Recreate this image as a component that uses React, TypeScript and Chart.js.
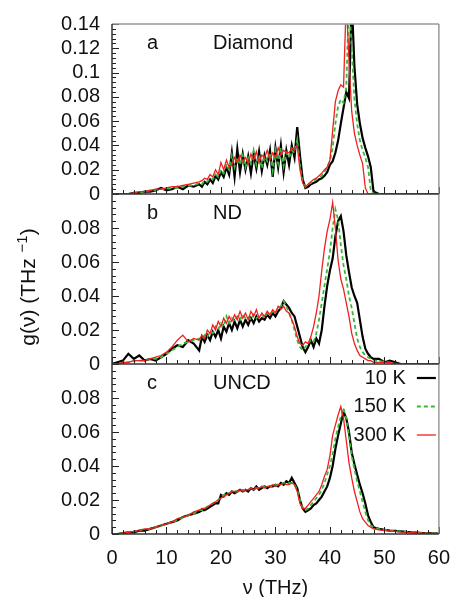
import React, { useEffect, useRef } from 'react';
import { Chart, registerables } from 'chart.js';

Chart.register(...registerables);

// Frequency grid (THz)
const FREQ = [
  0, 1, 2, 3, 4, 5, 6, 7, 8, 9, 10, 11, 12, 13, 14, 15, 16,
  16.5, 17, 17.5, 18, 18.5, 19, 19.5, 20, 20.5, 21, 21.5, 22, 22.5, 23, 23.5, 24,
  24.5, 25, 25.5, 26, 26.5, 27, 27.5, 28, 28.5, 29, 29.5, 30, 30.5, 31, 31.5, 32,
  32.5, 33, 33.5, 34, 34.5, 35, 35.5, 36, 36.5, 37, 37.5, 38, 38.5, 39, 39.5, 40,
  40.5, 41, 41.5, 42, 42.5, 43, 43.5, 44, 44.5, 45, 45.5, 46, 46.5, 47, 47.5, 48,
  49, 50, 51, 52, 53, 54, 55, 56, 57, 58, 59, 60,
];

// Panel a: Diamond
const DIAMOND_10K = [
  0, 0, 0, 0, 0.001, 0.001, 0.002, 0.002, 0.003, 0.005, 0.003, 0.004, 0.006, 0.004, 0.007, 0.006, 0.008,
  0.006, 0.010, 0.008, 0.012, 0.009, 0.015, 0.012, 0.018, 0.014, 0.022, 0.016, 0.034, 0.014, 0.037, 0.018, 0.033,
  0.020, 0.031, 0.017, 0.033, 0.021, 0.035, 0.019, 0.032, 0.024, 0.036, 0.014, 0.038, 0.022, 0.040, 0.018, 0.036,
  0.024, 0.040, 0.030, 0.055, 0.032, 0.012, 0.005, 0.006, 0.008, 0.009, 0.010, 0.012, 0.013, 0.015, 0.018, 0.024,
  0.027, 0.034, 0.044, 0.058, 0.071, 0.084, 0.079, 0.16, 0.105, 0.074, 0.058, 0.046, 0.038, 0.031, 0.022, 0.002,
  0, 0, 0, 0, 0, 0, 0, 0, 0, 0, 0, 0,
];
const DIAMOND_150K = [
  0, 0, 0, 0, 0.001, 0.001, 0.002, 0.003, 0.003, 0.004, 0.004, 0.005, 0.005, 0.006, 0.007, 0.007, 0.009,
  0.008, 0.011, 0.010, 0.013, 0.012, 0.016, 0.014, 0.020, 0.017, 0.024, 0.020, 0.032, 0.022, 0.030, 0.024, 0.032,
  0.022, 0.030, 0.025, 0.036, 0.024, 0.032, 0.021, 0.031, 0.027, 0.034, 0.019, 0.036, 0.025, 0.038, 0.023, 0.034,
  0.030, 0.036, 0.034, 0.045, 0.024, 0.010, 0.006, 0.008, 0.009, 0.011, 0.012, 0.013, 0.015, 0.018, 0.022, 0.027,
  0.038, 0.058, 0.072, 0.078, 0.075, 0.088, 0.16, 0.12, 0.078, 0.058, 0.044, 0.036, 0.030, 0.022, 0.003, 0,
  0, 0, 0, 0, 0, 0, 0, 0, 0, 0, 0, 0,
];
const DIAMOND_300K = [
  0, 0, 0, 0, 0.001, 0.002, 0.002, 0.003, 0.004, 0.004, 0.005, 0.006, 0.006, 0.007, 0.008, 0.009, 0.010,
  0.011, 0.013, 0.012, 0.016, 0.014, 0.020, 0.016, 0.026, 0.020, 0.028, 0.022, 0.024, 0.030, 0.026, 0.032, 0.027,
  0.030, 0.025, 0.033, 0.028, 0.035, 0.026, 0.032, 0.030, 0.036, 0.028, 0.034, 0.030, 0.038, 0.032, 0.036, 0.034,
  0.034, 0.038, 0.036, 0.040, 0.020, 0.009, 0.006, 0.008, 0.010, 0.012, 0.013, 0.015, 0.017, 0.020, 0.022, 0.028,
  0.052, 0.076, 0.085, 0.090, 0.088, 0.16, 0.11, 0.068, 0.050, 0.040, 0.032, 0.025, 0.005, 0, 0, 0,
  0, 0, 0, 0, 0, 0, 0, 0, 0, 0, 0, 0,
];

// Panel b: ND
const ND_10K = [
  0, 0.001, 0.002, 0.006, 0.003, 0.005, 0.002, 0.003, 0.002, 0.004, 0.006, 0.009, 0.011, 0.010, 0.014, 0.012, 0.008,
  0.016, 0.013, 0.017, 0.014, 0.019, 0.016, 0.020, 0.015, 0.022, 0.019, 0.024, 0.020, 0.025, 0.021, 0.026, 0.022,
  0.026, 0.023, 0.027, 0.024, 0.028, 0.025, 0.027, 0.026, 0.029, 0.027, 0.030, 0.028, 0.031, 0.033, 0.037, 0.035,
  0.033, 0.030, 0.028, 0.022, 0.016, 0.010, 0.007, 0.010, 0.014, 0.010, 0.015, 0.012, 0.020, 0.034, 0.046, 0.055,
  0.062, 0.075, 0.084, 0.087, 0.078, 0.064, 0.054, 0.045, 0.040, 0.036, 0.026, 0.016, 0.009, 0.006, 0.004, 0.003,
  0.003, 0.001, 0.002, 0.001, 0, 0, 0, 0, 0, 0, 0, 0,
];
const ND_150K = [
  0, 0, 0.001, 0.001, 0.002, 0.002, 0.002, 0.003, 0.003, 0.004, 0.006, 0.008, 0.010, 0.012, 0.013, 0.014, 0.015,
  0.014, 0.017, 0.016, 0.019, 0.018, 0.022, 0.020, 0.024, 0.022, 0.028, 0.024, 0.027, 0.025, 0.028, 0.026, 0.029,
  0.027, 0.028, 0.026, 0.029, 0.027, 0.028, 0.029, 0.027, 0.030, 0.029, 0.031, 0.030, 0.033, 0.034, 0.037, 0.034,
  0.030, 0.026, 0.020, 0.014, 0.010, 0.008, 0.010, 0.012, 0.014, 0.013, 0.018, 0.026, 0.036, 0.046, 0.056, 0.066,
  0.080, 0.091, 0.085, 0.070, 0.058, 0.050, 0.040, 0.033, 0.024, 0.015, 0.010, 0.007, 0.005, 0.004, 0.003, 0.002,
  0.002, 0.001, 0.001, 0, 0, 0, 0, 0, 0, 0, 0, 0,
];
const ND_300K = [
  0, 0, 0.001, 0.001, 0.002, 0.002, 0.002, 0.003, 0.004, 0.005, 0.007, 0.010, 0.014, 0.017, 0.013, 0.015, 0.014,
  0.017, 0.015, 0.020, 0.018, 0.023, 0.020, 0.025, 0.022, 0.027, 0.024, 0.028, 0.025, 0.029, 0.026, 0.031, 0.027,
  0.030, 0.026, 0.031, 0.028, 0.032, 0.027, 0.030, 0.028, 0.031, 0.029, 0.032, 0.030, 0.034, 0.032, 0.034, 0.031,
  0.030, 0.026, 0.022, 0.016, 0.012, 0.011, 0.013, 0.012, 0.016, 0.022, 0.030, 0.040, 0.055, 0.068, 0.078, 0.085,
  0.095, 0.080, 0.061, 0.050, 0.044, 0.036, 0.028, 0.018, 0.012, 0.008, 0.005, 0.004, 0.003, 0.002, 0.002, 0.001,
  0.001, 0.001, 0.001, 0, 0, 0, 0, 0, 0, 0, 0, 0,
];

// Panel c: UNCD
const UNCD_10K = [
  0, 0, 0.0005, 0.001, 0.001, 0.002, 0.002, 0.003, 0.004, 0.005, 0.006, 0.007, 0.008, 0.010, 0.011, 0.012, 0.013,
  0.014, 0.014, 0.015, 0.016, 0.017, 0.018, 0.018, 0.023, 0.022, 0.024, 0.023, 0.025, 0.024, 0.025, 0.026, 0.025,
  0.026, 0.025, 0.027, 0.026, 0.028, 0.026, 0.027, 0.028, 0.027, 0.028, 0.028, 0.029, 0.028, 0.030, 0.029, 0.031,
  0.030, 0.033, 0.030, 0.027, 0.020, 0.015, 0.013, 0.014, 0.015, 0.017, 0.018, 0.020, 0.022, 0.025, 0.028, 0.033,
  0.040, 0.050, 0.058, 0.065, 0.072, 0.068, 0.060, 0.048, 0.041, 0.035, 0.029, 0.024, 0.018, 0.011, 0.007, 0.004,
  0.003, 0.0025, 0.002, 0.0018, 0.0015, 0.0012, 0.001, 0.0008, 0.0006, 0.0005, 0.0004, 0.0003,
];
const UNCD_150K = [
  0, 0, 0.0005, 0.001, 0.0015, 0.002, 0.003, 0.003, 0.004, 0.005, 0.006, 0.007, 0.008, 0.010, 0.011, 0.012, 0.014,
  0.014, 0.015, 0.016, 0.017, 0.018, 0.019, 0.020, 0.022, 0.023, 0.024, 0.024, 0.025, 0.025, 0.025, 0.026, 0.026,
  0.026, 0.026, 0.027, 0.027, 0.027, 0.027, 0.028, 0.028, 0.028, 0.028, 0.028, 0.029, 0.029, 0.029, 0.030, 0.030,
  0.030, 0.030, 0.029, 0.026, 0.020, 0.015, 0.014, 0.015, 0.017, 0.019, 0.021, 0.023, 0.026, 0.030, 0.035, 0.040,
  0.047, 0.056, 0.063, 0.069, 0.074, 0.068, 0.058, 0.046, 0.038, 0.031, 0.025, 0.019, 0.013, 0.008, 0.005, 0.004,
  0.003, 0.0025, 0.002, 0.0018, 0.0015, 0.0012, 0.001, 0.0008, 0.0006, 0.0005, 0.0004, 0.0003,
];
const UNCD_300K = [
  0, 0, 0.0005, 0.001, 0.0015, 0.002, 0.003, 0.003, 0.004, 0.005, 0.006, 0.007, 0.009, 0.010, 0.011, 0.013, 0.014,
  0.015, 0.015, 0.016, 0.017, 0.018, 0.019, 0.020, 0.021, 0.022, 0.023, 0.024, 0.025, 0.025, 0.025, 0.026, 0.025,
  0.026, 0.026, 0.027, 0.026, 0.027, 0.027, 0.028, 0.027, 0.028, 0.028, 0.029, 0.028, 0.029, 0.029, 0.030, 0.029,
  0.029, 0.030, 0.029, 0.025, 0.018, 0.015, 0.015, 0.017, 0.019, 0.021, 0.023, 0.025, 0.029, 0.034, 0.038, 0.046,
  0.058, 0.064, 0.070, 0.075, 0.068, 0.055, 0.042, 0.033, 0.025, 0.019, 0.013, 0.009, 0.007, 0.005, 0.004, 0.003,
  0.0025, 0.002, 0.0018, 0.0015, 0.0012, 0.001, 0.0008, 0.0006, 0.0005, 0.0004, 0.0003, 0.0003,
];

const PANEL_LETTERS = ['a', 'b', 'c'];
const PANEL_NAMES = ['Diamond', 'ND', 'UNCD'];
const PANEL_MAX = [0.14, 0.1, 0.1];
const PANEL_LABEL_MAX = [0.14, 0.08, 0.08];
const SERIES_LABELS = ['10 K', '150 K', '300 K'];
const SERIES_COLORS = ['#000000', '#33bb33', '#f02020'];
const SERIES_WIDTHS = [2.2, 1.8, 1.3];
const SERIES_DASH: number[][] = [[], [4, 3], []];
const X_MIN = 0;
const X_MAX = 60;
const X_STEP = 10;
const Y_STEP = 0.02;

const PANEL_DATA = [
  [DIAMOND_10K, DIAMOND_150K, DIAMOND_300K],
  [ND_10K, ND_150K, ND_300K],
  [UNCD_10K, UNCD_150K, UNCD_300K],
];
const PANEL_AXES = ['ya', 'yb', 'yc'];

const FONT = '"Liberation Sans", Arial, Helvetica, sans-serif';

const decorPlugin = {
  id: 'decor',
  afterDatasetsDraw(chart: any) {
    const { ctx, chartArea: ca, scales } = chart;
    const xs = scales.x;
    ctx.save();
    const line = (x1: number, y1: number, x2: number, y2: number) => {
      ctx.beginPath();
      ctx.moveTo(x1, y1);
      ctx.lineTo(x2, y2);
      ctx.stroke();
    };
    // ticks
    ctx.strokeStyle = '#222';
    ctx.lineWidth = 1;
    PANEL_AXES.forEach((id, pi) => {
      const ys = scales[id];
      for (let v = X_MIN; v <= X_MAX; v += 2) {
        const px = Math.round(xs.getPixelForValue(v)) + 0.5;
        const len = v % 10 === 0 ? 7 : 4;
        line(px, ys.bottom, px, ys.bottom - len);
      }
      const nMinor = Math.round(PANEL_MAX[pi] / 0.004);
      for (let k = 0; k <= nMinor; k++) {
        const py = Math.round(ys.getPixelForValue(k * 0.004)) + 0.5;
        const len = k % 5 === 0 ? 7 : 4;
        line(ca.left, py, ca.left + len, py);
      }
    });
    // borders
    ctx.lineWidth = 1.5;
    ctx.strokeStyle = '#999';
    line(ca.left, ca.top, ca.right, ca.top);
    line(ca.right, ca.top, ca.right, ca.bottom);
    ctx.strokeStyle = '#333';
    line(ca.left, ca.top, ca.left, ca.bottom);
    PANEL_AXES.forEach((id) => {
      const ys = scales[id];
      line(ca.left, ys.bottom, ca.right, ys.bottom);
    });

    // panel labels
    ctx.fillStyle = '#111';
    ctx.font = `20px ${FONT}`;
    ctx.textBaseline = 'middle';
    ctx.textAlign = 'left';
    PANEL_AXES.forEach((id, pi) => {
      const ys = scales[id];
      const y = ys.top + 19;
      ctx.fillText(PANEL_LETTERS[pi], ca.left + 35, y);
      ctx.fillText(PANEL_NAMES[pi], ca.left + 101, y);
    });

    // legend in panel c
    const yc = scales.yc;
    SERIES_LABELS.forEach((lab, i) => {
      const y = yc.top + 14 + i * 28.5;
      ctx.textAlign = 'right';
      ctx.fillStyle = '#111';
      ctx.fillText(lab, ca.right - 33, y);
      ctx.strokeStyle = SERIES_COLORS[i];
      ctx.lineWidth = SERIES_WIDTHS[i];
      ctx.setLineDash(SERIES_DASH[i]);
      line(ca.right - 22, y, ca.right - 3, y);
      ctx.setLineDash([]);
    });

    // x title
    ctx.fillStyle = '#111';
    ctx.textAlign = 'center';
    ctx.font = `20px ${FONT}`;
    ctx.fillText('\u03bd (THz)', (ca.left + ca.right) / 2, 588);

    // y title (rotated) with superscript
    ctx.save();
    ctx.translate(28, 287);
    ctx.rotate(-Math.PI / 2);
    const main = 'g(\u03bd) (THz ';
    const sup = '\u22121';
    const close = ')';
    ctx.font = `21px ${FONT}`;
    const wMain = ctx.measureText(main).width;
    const wClose = ctx.measureText(close).width;
    ctx.font = `15px ${FONT}`;
    const wSup = ctx.measureText(sup).width;
    const total = wMain + wSup + wClose;
    let x0 = -total / 2;
    ctx.textAlign = 'left';
    ctx.textBaseline = 'alphabetic';
    ctx.font = `21px ${FONT}`;
    ctx.fillText(main, x0, 7);
    x0 += wMain;
    ctx.font = `15px ${FONT}`;
    ctx.fillText(sup, x0, -1);
    x0 += wSup;
    ctx.font = `21px ${FONT}`;
    ctx.fillText(close, x0, 7);
    ctx.restore();

    ctx.restore();
  },
};

function yScale(pi: number) {
  return {
    type: 'linear',
    position: 'left',
    stack: 'panels',
    stackWeight: 1,
    min: 0,
    max: PANEL_MAX[pi],
    grid: { display: false, drawTicks: false },
    border: { display: false },
    ticks: {
      stepSize: Y_STEP,
      autoSkip: false,
      padding: 12,
      color: '#111',
      font: { family: FONT, size: 20 },
      callback: (v: any) => {
        const n = Number(v);
        if (n > PANEL_LABEL_MAX[pi] + 1e-9) return '';
        return String(parseFloat(n.toFixed(3)));
      },
    },
    afterFit: (s: any) => {
      s.width = 112;
    },
  };
}

export default function App() {
  const ref = useRef<HTMLCanvasElement | null>(null);
  useEffect(() => {
    if (!ref.current) return;
    const datasets: any[] = [];
    PANEL_DATA.forEach((series, pi) => {
      series.forEach((vals, si) => {
        datasets.push({
          label: `${PANEL_NAMES[pi]} ${SERIES_LABELS[si]}`,
          data: FREQ.map((f, i) => ({ x: f, y: vals[i] })),
          xAxisID: 'x',
          yAxisID: PANEL_AXES[pi],
          borderColor: SERIES_COLORS[si],
          borderWidth: SERIES_WIDTHS[si],
          borderDash: SERIES_DASH[si],
          pointRadius: 0,
          tension: 0,
          fill: false,
          order: 3 - si,
        });
      });
    });
    const chart = new Chart(ref.current, {
      type: 'line',
      data: { datasets },
      options: {
        responsive: false,
        maintainAspectRatio: false,
        animation: false,
        events: [],
        layout: { padding: { left: 0, right: 12, top: 19, bottom: 0 } },
        plugins: { legend: { display: false }, tooltip: { enabled: false }, title: { display: false } },
        scales: {
          x: {
            type: 'linear',
            position: 'bottom',
            min: X_MIN,
            max: X_MAX,
            grid: { display: false, drawTicks: false },
            border: { display: false },
            ticks: {
              stepSize: X_STEP,
              autoSkip: false,
              maxRotation: 0,
              padding: 12,
              color: '#111',
              font: { family: FONT, size: 20 },
            },
            afterFit: (s: any) => {
              s.height = 63;
            },
          },
          yc: yScale(2),
          yb: yScale(1),
          ya: yScale(0),
        } as any,
      },
      plugins: [decorPlugin],
    } as any);
    return () => chart.destroy();
  }, []);
  return (
    <div style={{ position: 'absolute', left: 0, top: 0, width: 462, height: 597, background: '#fff' }}>
      <canvas ref={ref} width={462} height={597} style={{ display: 'block' }} />
    </div>
  );
}
